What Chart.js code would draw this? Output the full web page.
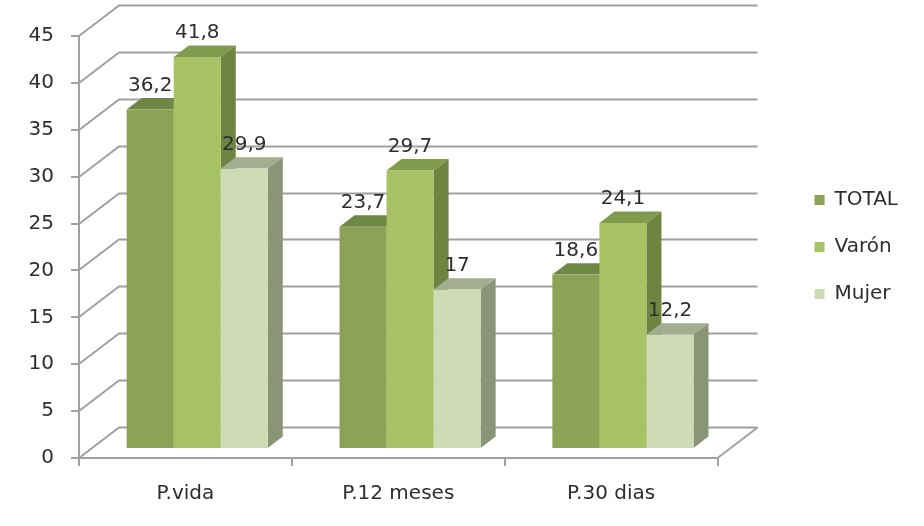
<!DOCTYPE html>
<html>
<head>
<meta charset="utf-8">
<script src="https://cdn.jsdelivr.net/npm/chart.js@4"></script>
<style>
  html, body { margin: 0; padding: 0; background: #fff; }
  #wrap { width: 924px; height: 526px; position: relative; }
</style>
</head>
<body>
<div id="wrap"><canvas id="chart"></canvas></div>
<script>
// data
const categories = ['P.vida', 'P.12 meses', 'P.30 dias'];
const seriesNames = ['TOTAL', 'Varón', 'Mujer'];
const totalValues = [36.2, 23.7, 18.6];
const varonValues = [41.8, 29.7, 24.1];
const mujerValues = [29.9, 17, 12.2];
const yTicks = [0, 5, 10, 15, 20, 25, 30, 35, 40, 45];

// colours: front, top and side faces of each series
const frontColors = ['#8aa354', '#a6c265', '#cedbb4'];
const topColors = ['#6f8744', '#809b4c', '#a3ae90'];
const sideColors = ['#6c8340', '#6e8541', '#8a9577'];

const lineColor = '#a0a0a0';
const textColor = '#2e2e2e';
const fontFamily = '"DejaVu Sans", sans-serif';
const fontSize = 20;

// 3D look: depth of the walls and where the bars sit inside it
const DEPTH_X = 40, DEPTH_Y = -30.5;
const BAR_OFFSET = 0.295;
const BAR_DEPTH = 0.375;

function poly(ctx, pts, color) {
    ctx.beginPath();
    ctx.moveTo(pts[0][0], pts[0][1]);
    for (let k = 1; k < pts.length; k++) ctx.lineTo(pts[k][0], pts[k][1]);
    ctx.closePath();
    ctx.fillStyle = color;
    ctx.fill();
}

function fmt(v) {
    return String(v).replace('.', ',');
}

const box3d = {
    id: 'box3d',
    beforeDatasetsDraw(chart) {
        const { ctx, chartArea: a, scales: { y } } = chart;
        ctx.save();

        // side wall, back wall and floor
        ctx.strokeStyle = lineColor;
        ctx.lineWidth = 2;
        ctx.beginPath();
        y.ticks.forEach(t => {
            const py = Math.round(y.getPixelForValue(t.value));
            ctx.moveTo(a.left, py);
            ctx.lineTo(a.left + DEPTH_X, py + DEPTH_Y);
            ctx.lineTo(a.right + DEPTH_X, py + DEPTH_Y);
        });
        ctx.moveTo(a.right, a.bottom);
        ctx.lineTo(a.right + DEPTH_X, a.bottom + DEPTH_Y);
        ctx.stroke();

        // bars, painted left to right so the nearer faces cover the others
        const ox = BAR_OFFSET * DEPTH_X, oy = BAR_OFFSET * DEPTH_Y;
        const dx = BAR_DEPTH * DEPTH_X, dy = BAR_DEPTH * DEPTH_Y;
        const labels = [];
        categories.forEach((c, i) => {
            chart.data.datasets.forEach((ds, d) => {
                const bar = chart.getDatasetMeta(d).data[i];
                const l = bar.x - bar.width / 2 + ox, r = bar.x + bar.width / 2 + ox;
                const t = bar.y + oy, b = bar.base + oy;
                poly(ctx, [[l, t], [r, t], [r + dx, t + dy], [l + dx, t + dy]], topColors[d]);
                poly(ctx, [[r, t], [r + dx, t + dy], [r + dx, b + dy], [r, b]], sideColors[d]);
                ctx.fillStyle = frontColors[d];
                ctx.fillRect(l, t, r - l, b - t);
                labels.push({ x: bar.x + ox, y: t - 24, text: fmt(ds.data[i]) });
            });
        });

        // value labels
        ctx.fillStyle = textColor;
        ctx.font = fontSize + 'px ' + fontFamily;
        ctx.textAlign = 'center';
        ctx.textBaseline = 'middle';
        labels.forEach(lb => ctx.fillText(lb.text, lb.x, lb.y));

        ctx.restore();
        return false;
    }
};

const seriesValues = [totalValues, varonValues, mujerValues];

new Chart(document.getElementById('chart'), {
    type: 'bar',
    data: {
        labels: categories,
        datasets: seriesNames.map((name, d) => ({
            label: name,
            data: seriesValues[d],
            backgroundColor: frontColors[d],
            borderWidth: 0,
            categoryPercentage: 0.663,
            barPercentage: 1
        }))
    },
    options: {
        responsive: true,
        maintainAspectRatio: false,
        animation: false,
        layout: { padding: { top: 36, left: 0, bottom: 0, right: 16 } },
        plugins: {
            tooltip: { enabled: false },
            legend: {
                position: 'right',
                fullSize: false,
                labels: {
                    color: textColor,
                    font: { family: fontFamily, size: fontSize },
                    boxWidth: 10,
                    boxHeight: 10,
                    padding: 27
                }
            }
        },
        scales: {
            x: {
                grid: { offset: true, drawOnChartArea: false, tickLength: 8, color: lineColor, lineWidth: 2 },
                border: { color: lineColor, width: 2 },
                ticks: { color: textColor, font: { family: fontFamily, size: fontSize }, padding: 16 },
                afterFit(s) { s.height = 68; }
            },
            y: {
                min: yTicks[0],
                max: yTicks[yTicks.length - 1],
                afterBuildTicks(s) { s.ticks = yTicks.map(v => ({ value: v })); },
                grid: { drawOnChartArea: false, tickLength: 8, color: lineColor, lineWidth: 2 },
                border: { color: lineColor, width: 2 },
                ticks: { color: textColor, font: { family: fontFamily, size: fontSize }, padding: 17 },
                afterFit(s) { s.width = 79; }
            },
            gap: {
                type: 'linear',
                position: 'right',
                grid: { display: false },
                border: { display: false },
                ticks: { display: false },
                afterFit(s) { s.width = 70; }
            }
        }
    },
    plugins: [box3d]
});
</script>
</body>
</html>
